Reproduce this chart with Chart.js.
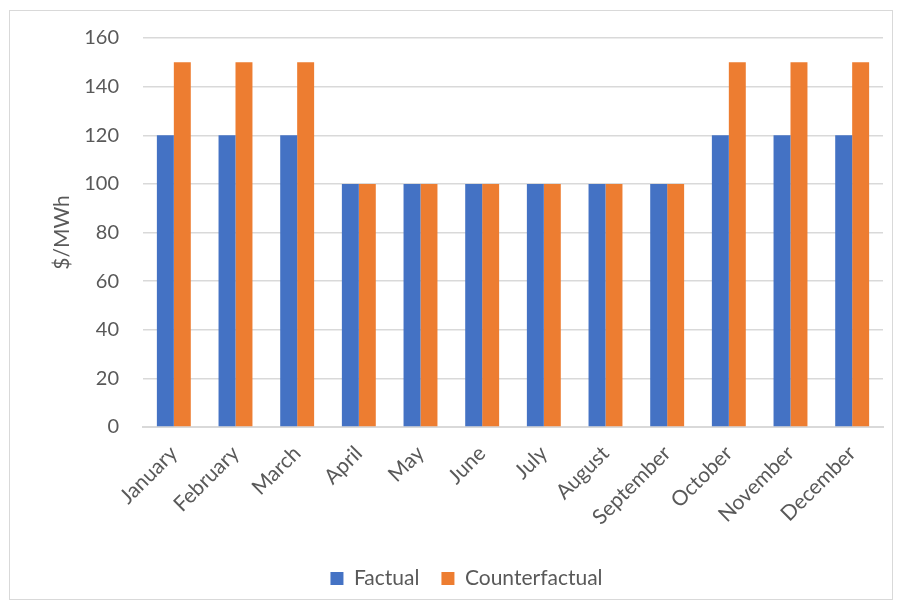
<!DOCTYPE html>
<html>
<head>
<meta charset="utf-8">
<script src="https://cdn.jsdelivr.net/npm/chart.js@4/dist/chart.umd.min.js"></script>
<style>
  body { margin: 0; background: #fff; }
  #wrap {
    position: absolute; left: 9px; top: 10px;
    width: 884px; height: 590px;
    border: 1px solid #d9d9d9; box-sizing: border-box;
  }
</style>
</head>
<body>
<div id="wrap"><canvas id="chart"></canvas></div>
<script>
// data
const months = ["January", "February", "March", "April", "May", "June",
  "July", "August", "September", "October", "November", "December"];
const factual = [120, 120, 120, 100, 100, 100, 100, 100, 100, 120, 120, 120];
const counterfactual = [150, 150, 150, 100, 100, 100, 100, 100, 100, 150, 150, 150];

const textColor = "#595959";
const gridColor = "#d9d9d9";
const fontFamily = "Lato, 'Open Sans', sans-serif";

// pin the axis sizes so the plot area lands where the reference has it
function fixSize(scale, w, h) {
  if (w) scale.width = w;
  if (h) scale.height = h;
  scale.paddingTop = 0;
  scale.paddingBottom = 0;
  scale.paddingLeft = 0;
  scale.paddingRight = 0;
}

new Chart(document.getElementById("chart").getContext("2d"), {
  type: "bar",
  data: {
    labels: months,
    datasets: [
      { label: "Factual", data: factual, backgroundColor: "#4472C4" },
      { label: "Counterfactual", data: counterfactual, backgroundColor: "#ED7D31" }
    ]
  },
  options: {
    responsive: true,
    maintainAspectRatio: false,
    animation: false,
    categoryPercentage: 0.55,
    barPercentage: 1,
    layout: { padding: { left: 40, right: 9, top: 27, bottom: 0 } },
    plugins: {
      tooltip: { enabled: false },
      legend: {
        position: "bottom",
        labels: {
          color: textColor,
          font: { family: fontFamily, size: 21 },
          boxWidth: 13,
          boxHeight: 13,
          padding: 22
        }
      }
    },
    scales: {
      x: {
        grid: { display: false },
        border: { display: true, color: gridColor, width: 2 },
        ticks: {
          color: textColor,
          font: { family: fontFamily, size: 21 },
          minRotation: 45,
          maxRotation: 45,
          autoSkip: false,
          padding: 6
        },
        afterFit: (scale) => fixSize(scale, 0, 119)
      },
      y: {
        min: 0,
        max: 160,
        ticks: {
          stepSize: 20,
          color: textColor,
          font: { family: fontFamily, size: 20 },
          padding: 24
        },
        grid: { color: gridColor, lineWidth: 1.5, drawTicks: false },
        border: { display: false },
        title: {
          display: true,
          text: "$/MWh",
          color: textColor,
          font: { family: fontFamily, size: 21 },
          padding: 0
        },
        afterFit: (scale) => fixSize(scale, 93, 0)
      }
    }
  }
});
</script>
</body>
</html>
